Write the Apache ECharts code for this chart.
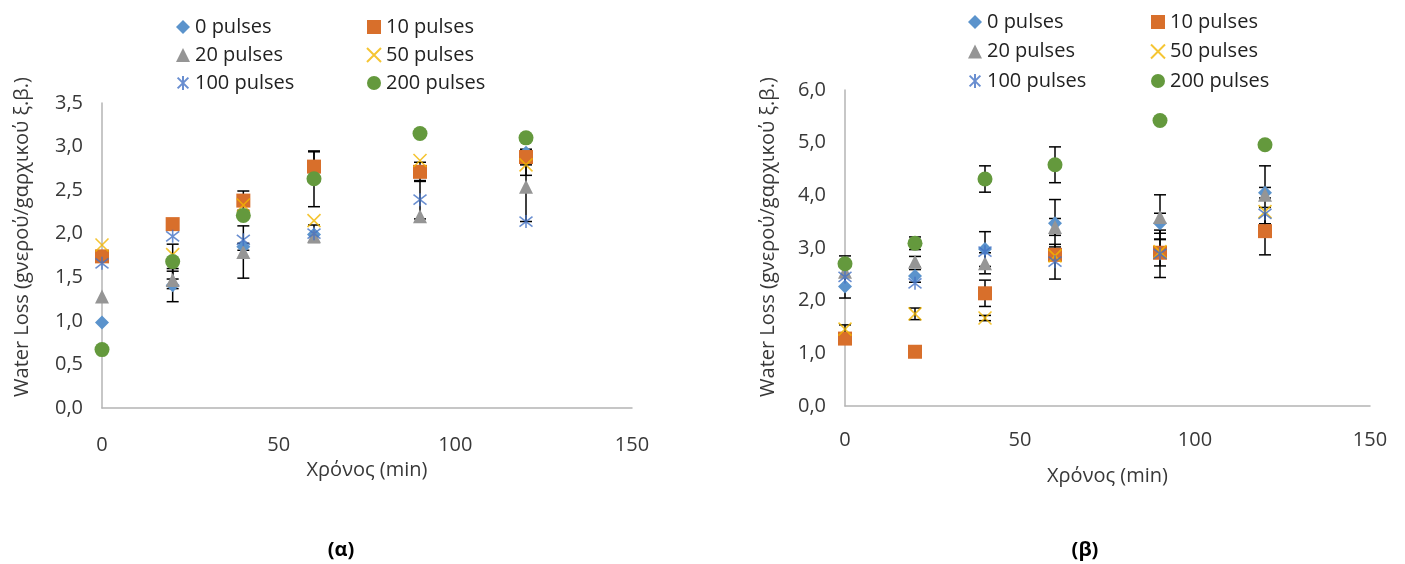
<!DOCTYPE html>
<html>
<head>
<meta charset="utf-8">
<script src="https://cdn.jsdelivr.net/npm/echarts@6/dist/echarts.min.js"></script>
<style>
html,body{margin:0;padding:0;background:#fff;}
#chart{width:1405px;height:564px;}
</style>
</head>
<body>
<div id="chart"></div>
<script>
// ---- data ----
var times = [0, 20, 40, 60, 90, 120];
var seriesNames = ['0 pulses', '10 pulses', '20 pulses', '50 pulses', '100 pulses', '200 pulses'];

// chart (α)
var a_p0   = [0.98, 1.41, 1.85, 1.99, 2.72, 2.93];
var a_p10  = [1.74, 2.11, 2.38, 2.77, 2.71, 2.88];
var a_p20  = [1.28, 1.47, 1.79, 1.97, 2.20, 2.54];
var a_p50  = [1.87, 1.76, 2.33, 2.15, 2.84, 2.79];
var a_p100 = [1.66, 1.97, 1.93, 2.00, 2.39, 2.14];
var a_p200 = [0.67, 1.68, 2.21, 2.63, 3.15, 3.10];
var a_e0   = [0, 0.19, 0.04, 0, 0, 0.03];
var a_e10  = [0, 0, 0.11, 0.17, 0.11, 0.09];
var a_e20  = [0, 0.10, 0.30, 0, 0, 0.40];
var a_e50  = [0, 0, 0, 0, 0, 0.12];
var a_e100 = [0, 0, 0, 0.10, 0.22, 0];
var a_e200 = [0, 0.20, 0, 0.32, 0, 0];

// chart (β)
var b_p0   = [2.27, 2.47, 2.98, 3.47, 3.47, 4.05];
var b_p10  = [1.28, 1.03, 2.14, 2.87, 2.91, 3.32];
var b_p20  = [2.55, 2.74, 2.71, 3.40, 3.59, 4.01];
var b_p50  = [1.46, 1.75, 1.67, 2.85, 2.93, 3.69];
var b_p100 = [2.45, 2.33, 2.93, 2.74, 2.89, 3.65];
var b_p200 = [2.70, 3.09, 4.31, 4.58, 5.42, 4.96];
var b_e0   = [0, 0.12, 0.33, 0.45, 0.19, 0.10];
var b_e10  = [0, 0, 0.25, 0, 0.25, 0.45];
var b_e20  = [0, 0.10, 0.20, 0.16, 0.42, 0.55];
var b_e50  = [0.08, 0.11, 0.05, 0, 0, 0];
var b_e100 = [0.40, 0, 0, 0.33, 0.45, 0];
var b_e200 = [0, 0.12, 0.25, 0.34, 0, 0];

// ---- styles ----
var FONT = '"Open Sans"';
var FS = 20;
var colors = ['#5B93CC', '#D86F2B', '#959595', '#F2B600', '#4472C4', '#64993D'];
var symbols = [
  'diamond', 'rect', 'triangle',
  'path://M0,0L10,10M10,0L0,10',
  'path://M0,0L10,10M10,0L0,10M5,-1.5L5,11.5',
  'circle'
];
var sizes = [14, 14, 14, 13, 13, 15];
var strokeOnly = [false, false, false, true, true, false];

var aData = [a_p0, a_p10, a_p20, a_p50, a_p100, a_p200];
var aErr  = [a_e0, a_e10, a_e20, a_e50, a_e100, a_e200];
var bData = [b_p0, b_p10, b_p20, b_p50, b_p100, b_p200];
var bErr  = [b_e0, b_e10, b_e20, b_e50, b_e100, b_e200];

function pts(vals) { return times.map(function (t, i) { return [t, vals[i]]; }); }
function errPts(vals, errs) { return times.map(function (t, i) { return [t, vals[i], errs[i]]; }); }

function renderErr(params, api) {
  var e = api.value(2);
  if (!e) return null;
  var x = api.value(0), y = api.value(1);
  var top = api.coord([x, y + e]);
  var bot = api.coord([x, y - e]);
  var w = 6;
  var st = { stroke: '#000', lineWidth: 1.5 };
  return {
    type: 'group',
    children: [
      { type: 'line', shape: { x1: top[0], y1: top[1], x2: bot[0], y2: bot[1] }, style: st },
      { type: 'line', shape: { x1: top[0] - w, y1: top[1], x2: top[0] + w, y2: top[1] }, style: st },
      { type: 'line', shape: { x1: bot[0] - w, y1: bot[1], x2: bot[0] + w, y2: bot[1] }, style: st }
    ]
  };
}

var series = [];
[[aData, aErr, 0], [bData, bErr, 1]].forEach(function (c) {
  c[0].forEach(function (vals, k) {
    series.push({
      type: 'custom', name: 'err', xAxisIndex: c[2], yAxisIndex: c[2], z: 1,
      renderItem: renderErr, data: errPts(vals, c[1][k]), silent: true
    });
  });
  c[0].forEach(function (vals, k) {
    var st = strokeOnly[k]
      ? { color: 'rgba(0,0,0,0)', borderColor: colors[k], borderWidth: 1.6 }
      : { color: colors[k], opacity: 1 };
    series.push({
      type: 'scatter', name: seriesNames[k], xAxisIndex: c[2], yAxisIndex: c[2], z: 2 + k,
      symbol: symbols[k], symbolSize: sizes[k], itemStyle: st, data: pts(vals)
    });
  });
});

function yFmt(v) { return v.toFixed(1).replace('.', ','); }

var axisLine = { show: true, lineStyle: { color: '#B4B4B4', width: 1.5 } };
var tickLbl = { color: '#383838', fontFamily: FONT, fontSize: FS };

function xAxis(gi, margin, gap) {
  return {
    type: 'value', gridIndex: gi, min: 0, max: 150, interval: 50,
    axisLine: axisLine, axisTick: { show: false }, splitLine: { show: false },
    axisLabel: Object.assign({ margin: margin }, tickLbl),
    name: 'Χρόνος (min)', nameLocation: 'middle', nameGap: gap,
    nameTextStyle: { color: '#383838', fontFamily: FONT, fontSize: FS }
  };
}
function yAxis(gi, max, interval) {
  return {
    type: 'value', gridIndex: gi, min: 0, max: max, interval: interval,
    axisLine: axisLine, axisTick: { show: false }, splitLine: { show: false },
    axisLabel: Object.assign({ margin: 19, formatter: yFmt }, tickLbl)
  };
}

function legend(names, left, top, gap) {
  return {
    data: names, orient: 'vertical', left: left, top: top, itemGap: gap,
    itemWidth: 14, itemHeight: 14, padding: 0,
    textStyle: { color: '#222', fontFamily: FONT, fontSize: FS },
    selectedMode: false
  };
}

var option = {
  animation: false,
  backgroundColor: '#fff',
  grid: [
    { left: 102, top: 103, width: 530, height: 305 },
    { left: 845, top: 90, width: 525, height: 316 }
  ],
  xAxis: [xAxis(0, 27, 46), xAxis(1, 24, 60)],
  yAxis: [yAxis(0, 3.5, 0.5), yAxis(1, 6, 1)],
  legend: [
    legend(['0 pulses', '20 pulses', '100 pulses'], 176, 17, 8),
    legend(['10 pulses', '50 pulses', '200 pulses'], 366, 17, 8),
    legend(['0 pulses', '20 pulses', '100 pulses'], 968, 12, 9.5),
    legend(['10 pulses', '50 pulses', '200 pulses'], 1150, 12, 9.5)
  ],
  graphic: [
    { type: 'text', x: 22, y: 237, rotation: Math.PI / 2,
      style: { text: 'Water Loss (gνερού/gαρχικού ξ.β.)', fill: '#383838', font: FS + 'px ' + FONT, textAlign: 'center', textVerticalAlign: 'middle' } },
    { type: 'text', x: 768, y: 237, rotation: Math.PI / 2,
      style: { text: 'Water Loss (gνερού/gαρχικού ξ.β.)', fill: '#383838', font: FS + 'px ' + FONT, textAlign: 'center', textVerticalAlign: 'middle' } },
    { type: 'text', x: 341, y: 550,
      style: { text: '(α)', fill: '#000', font: 'bold ' + FS + 'px ' + FONT, textAlign: 'center', textVerticalAlign: 'middle' } },
    { type: 'text', x: 1085, y: 550,
      style: { text: '(β)', fill: '#000', font: 'bold ' + FS + 'px ' + FONT, textAlign: 'center', textVerticalAlign: 'middle' } }
  ],
  series: series
};

var chart = echarts.init(document.getElementById('chart'), null, { renderer: 'canvas' });
chart.setOption(option);
</script>
</body>
</html>
